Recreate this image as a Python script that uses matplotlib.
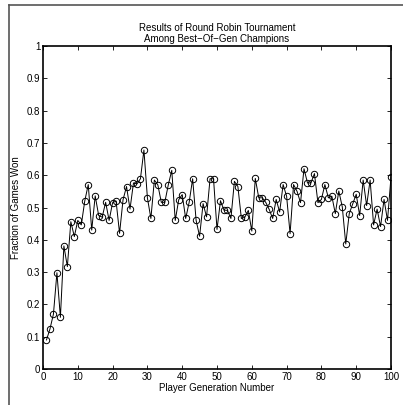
import matplotlib
matplotlib.use("Agg")
import matplotlib.pyplot as plt
from matplotlib.lines import Line2D

plt.rcParams['font.family'] = ['Liberation Sans', 'DejaVu Sans']

generation = list(range(1, 101))
fraction_won = [
    0.090, 0.124, 0.170, 0.298, 0.160, 0.381, 0.317, 0.456, 0.410, 0.460,
    0.446, 0.520, 0.571, 0.430, 0.536, 0.475, 0.470, 0.516, 0.460, 0.515,
    0.520, 0.420, 0.524, 0.565, 0.495, 0.576, 0.573, 0.589, 0.678, 0.530,
    0.466, 0.585, 0.570, 0.516, 0.516, 0.570, 0.615, 0.460, 0.524, 0.540,
    0.466, 0.516, 0.589, 0.460, 0.411, 0.512, 0.471, 0.589, 0.589, 0.432,
    0.521, 0.492, 0.491, 0.466, 0.581, 0.565, 0.466, 0.470, 0.491, 0.427,
    0.590, 0.530, 0.530, 0.516, 0.494, 0.466, 0.525, 0.486, 0.571, 0.535,
    0.419, 0.571, 0.550, 0.515, 0.620, 0.576, 0.576, 0.605, 0.515, 0.525,
    0.571, 0.530, 0.535, 0.481, 0.551, 0.502, 0.387, 0.481, 0.511, 0.541,
    0.475, 0.585, 0.506, 0.585, 0.446, 0.495, 0.441, 0.525, 0.460, 0.595,
]
x_ticks = list(range(0, 101, 10))
y_ticks = [0, 0.1, 0.2, 0.3, 0.4, 0.5, 0.6, 0.7, 0.8, 0.9, 1]
y_tick_labels = ['0', '0.1', '0.2', '0.3', '0.4', '0.5', '0.6', '0.7', '0.8', '0.9', '1']

W, H = 403, 405
fig = plt.figure(figsize=(W / 100, H / 100), dpi=100)

# page border (left and top edges only)
fig.add_artist(Line2D([9 / W, 9 / W], [0, 1 - 5 / H], color='#555555', lw=1.2))
fig.add_artist(Line2D([9 / W, 1], [1 - 5 / H, 1 - 5 / H], color='#555555', lw=1.2))

left, right, top, bottom = 43, 391, 46, 369
ax = fig.add_axes([left / W, 1 - bottom / H, (right - left) / W, (bottom - top) / H])

ax.plot(generation, fraction_won, color='black', lw=0.7,
        marker='o', markersize=4.6, markerfacecolor='none',
        markeredgecolor='black', markeredgewidth=0.7)

ax.set_xlim(0, 100)
ax.set_ylim(0, 1)
ax.set_xticks(x_ticks)
ax.set_yticks(y_ticks)
ax.set_yticklabels(y_tick_labels)
ax.tick_params(direction='in', top=True, right=True, length=3, width=0.6,
               labelsize=7, pad=2)
for s in ax.spines.values():
    s.set_linewidth(1.2)

ax.set_xlabel('Player Generation Number', fontsize=7, labelpad=1)
ax.set_ylabel('Fraction of Games Won', fontsize=7, labelpad=4)
ax.set_title('Results of Round Robin Tournament\nAmong Best\u2212Of\u2212Gen Champions',
             fontsize=7, pad=3, linespacing=1.15)

fig.savefig('out.png', dpi=100)
